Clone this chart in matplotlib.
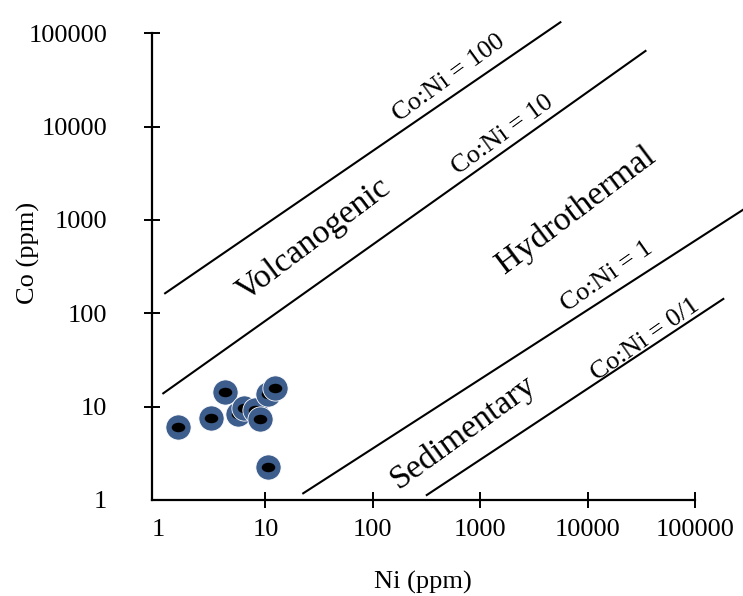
import numpy as np
import matplotlib
matplotlib.use("Agg")
import matplotlib.pyplot as plt
from matplotlib.path import Path

plt.rcParams['font.family'] = ['Liberation Serif', 'DejaVu Serif']

# sample points (Ni ppm, Co ppm)
ni = [1.55, 3.10, 4.21, 5.59, 6.32, 8.00, 8.91, 10.6, 12.3, 10.6]
co = [6.10, 7.50, 14.3, 8.28, 9.68, 9.21, 7.38, 13.6, 15.7, 2.27]

# field boundary lines as drawn (start / end in Ni, Co)
boundary_names = ["Co:Ni = 100", "Co:Ni = 10", "Co:Ni = 1", "Co:Ni = 0/1"]
boundary_ni = [(1.165, 5580), (1.12, 34600), (22.5, 280000), (318, 183500)]
boundary_co = [(164, 131300), (13.9, 64700), (1.18, 1286), (1.13, 142.6)]

# text labels on the diagram
label_text = ["Co:Ni = 100", "Co:Ni = 10", "Co:Ni = 1", "Co:Ni = 0/1",
              "Volcanogenic", "Hydrothermal", "Sedimentary"]
label_ni = [510, 1620, 15070, 34800, 28.1, 7710, 697]
label_co = [33000, 8140, 247, 51.8, 611, 1280, 5.39]
label_size = [19, 19, 19, 19, 24.5, 24.5, 24.5]
label_rot = [36, 36, 35, 35, 37, 37, 36]

tick_vals = [1, 10, 100, 1000, 10000, 100000]
tick_labels = ["1", "10", "100", "1000", "10000", "100000"]

fig = plt.figure(figsize=(7.43, 5.96), dpi=100)
ax = fig.add_axes([151.5 / 743, 96 / 596, 543.5 / 743, 466.7 / 596])
ax.set_xscale("log")
ax.set_yscale("log")
ax.set_xlim(0.87, 100000)
ax.set_ylim(1, 100000)

for xs, ys in zip(boundary_ni, boundary_co):
    ax.plot(xs, ys, color="black", lw=1.5, clip_on=False)

for t, x, y, s, r in zip(label_text, label_ni, label_co, label_size, label_rot):
    ax.text(x, y, t, fontsize=s, rotation=r, rotation_mode="anchor",
            ha="center", va="center")

# ring markers: blue disc with a flattened black centre
circ = Path.unit_circle()
inner = Path(circ.vertices * np.array([1.0, 0.7]), circ.codes)
for i, (x, y) in enumerate(zip(ni, co)):
    ax.scatter(x, y, s=330, marker="o", color="#3d5d8c", edgecolors="white",
               linewidths=0.6, zorder=3 + i * 0.01, clip_on=False)
    ax.scatter(x, y, s=95, marker=inner, color="black", linewidths=0,
               zorder=3 + i * 0.01 + 0.005, clip_on=False)

ax.spines["top"].set_visible(False)
ax.spines["right"].set_visible(False)
for sp in ("left", "bottom"):
    ax.spines[sp].set_linewidth(1.6)

ax.set_xticks(tick_vals)
ax.set_xticklabels(tick_labels)
ax.set_yticks(tick_vals)
ax.set_yticklabels(tick_labels)
ax.minorticks_off()
ax.tick_params(axis="x", direction="inout", length=12, width=1.4,
               labelsize=19, pad=8)
ax.tick_params(axis="y", direction="inout", length=12, width=1.4,
               labelsize=19, pad=26)
ax.xaxis.get_major_ticks()[0].tick1line.set_visible(False)
ax.yaxis.get_major_ticks()[0].tick1line.set_visible(False)

ax.set_xlabel("Ni (ppm)", fontsize=19, va="center")
ax.xaxis.set_label_coords(0.4995, -0.176)
ax.set_ylabel("Co (ppm)", fontsize=19, va="center")
ax.yaxis.set_label_coords(-0.227, 0.529)

fig.savefig("out.png", dpi=100)
